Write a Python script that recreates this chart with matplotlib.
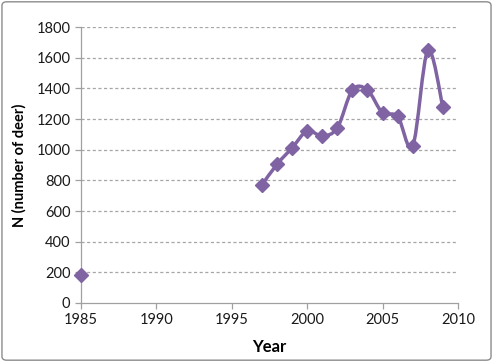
import matplotlib
matplotlib.use("Agg")
import matplotlib.pyplot as plt
import numpy as np
from matplotlib.path import Path
from matplotlib.patches import PathPatch, FancyBboxPatch

# Data
years = [1997, 1998, 1999, 2000, 2001, 2002, 2003, 2004, 2005, 2006, 2007, 2008, 2009]
deer = [770, 905, 1012, 1122, 1090, 1143, 1390, 1390, 1240, 1218, 1024, 1648, 1277]
early_year = [1985]
early_deer = [183]
xticks = [1985, 1990, 1995, 2000, 2005, 2010]
yticks = [0, 200, 400, 600, 800, 1000, 1200, 1400, 1600, 1800]

purple = "#7F63A2"
plt.rcParams['font.family'] = ['Lato', 'DejaVu Sans']

fig = plt.figure(figsize=(4.93, 3.62), dpi=100)
border = FancyBboxPatch((0.004, 0.005), 0.992, 0.99, boxstyle="round,pad=0,rounding_size=0.01",
                        transform=fig.transFigure, fill=False, edgecolor="#8C8C8C", linewidth=1.0)
fig.patches.append(border)
ax = fig.add_axes([0.164, 0.163, 0.765, 0.762])

# Smoothed line (Catmull-Rom as cubic Bezier)
x = np.array(years, float)
y = np.array(deer, float)
verts = [(x[0], y[0])]
codes = [Path.MOVETO]
n = len(x)
for i in range(n - 1):
    p0 = (x[i - 1], y[i - 1]) if i > 0 else (x[i], y[i])
    p1 = (x[i], y[i])
    p2 = (x[i + 1], y[i + 1])
    p3 = (x[i + 2], y[i + 2]) if i + 2 < n else (x[i + 1], y[i + 1])
    c1 = (p1[0] + (p2[0] - p0[0]) / 6, p1[1] + (p2[1] - p0[1]) / 6)
    c2 = (p2[0] - (p3[0] - p1[0]) / 6, p2[1] - (p3[1] - p1[1]) / 6)
    verts += [c1, c2, p2]
    codes += [Path.CURVE4] * 3
ax.add_patch(PathPatch(Path(verts, codes), fill=False, edgecolor=purple, linewidth=2.5, zorder=3))
ax.plot(years, deer, linestyle="none", marker="D", markersize=7, color=purple, zorder=4)
ax.plot(early_year, early_deer, linestyle="none", marker="D", markersize=7, color=purple,
        zorder=4, clip_on=False)

ax.set_xlim(1985, 2010)
ax.set_ylim(0, 1800)
ax.set_xticks(xticks)
ax.set_yticks(yticks)
for v in yticks[1:]:
    ax.axhline(v, color="#A6A6A6", linestyle=(0, (2.5, 2)), linewidth=0.9, zorder=1)

for s in ["top", "right"]:
    ax.spines[s].set_visible(False)
for s in ["left", "bottom"]:
    ax.spines[s].set_color("#A0A0A0")
    ax.spines[s].set_linewidth(0.9)
ax.tick_params(direction="out", length=4, width=0.9, color="#A0A0A0", labelsize=10.5, labelcolor="#1A1A1A")
ax.set_xlabel("Year", fontsize=12, fontweight="bold", labelpad=8)
ax.set_ylabel("N (number of deer)", fontsize=10.5, fontweight="bold", labelpad=7)

fig.savefig("out.png", dpi=100)
